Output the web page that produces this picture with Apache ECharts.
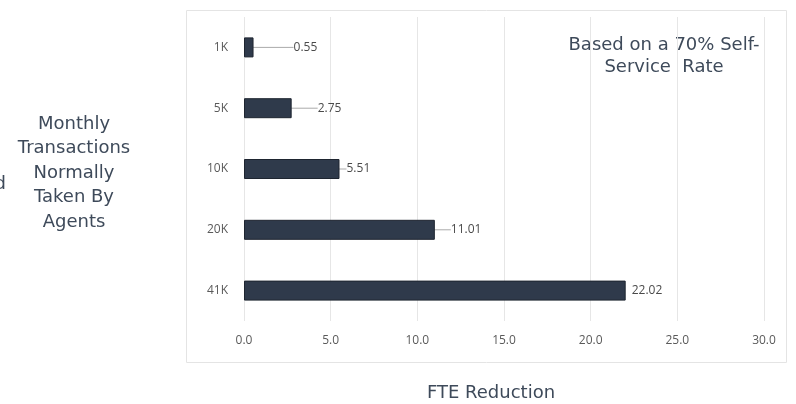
<!DOCTYPE html>
<html><head><meta charset="utf-8">
<script src="https://cdn.jsdelivr.net/npm/echarts@6/dist/echarts.min.js"></script>
<style>html,body{margin:0;padding:0;background:#fff}#c{width:796px;height:404px}</style>
</head><body><div id="c"></div>
<script>
const categories = ['41K', '20K', '10K', '5K', '1K'];
const fteValues = [22.02, 11.01, 5.51, 2.75, 0.55];
const labelOffsets = [0, 10, 1, 20, 34];
const xTicks = [0, 5, 10, 15, 20, 25, 30];

const chart = echarts.init(document.getElementById('c'));
const txt = '#3e4a5a';
const sideFont = '18px "DejaVu Sans"';
chart.setOption({
  animation: false,
  graphic: [
    {type: 'rect', shape: {x: 186.5, y: 10.5, width: 600, height: 352}, style: {fill: 'none', stroke: '#e4e4e4', lineWidth: 1}, z: 0},
    {type: 'text', style: {text: 'Monthly\nTransactions\nNormally\nTaken By\nAgents', x: 74, y: 112, align: 'center', fill: txt, font: sideFont, lineHeight: 24.5}},
    {type: 'text', style: {text: 'd', x: 6, y: 175, align: 'right', fill: txt, font: sideFont}},
    {type: 'text', style: {text: 'Based on a 70% Self-\nService  Rate', x: 664, y: 34, align: 'center', fill: txt, font: sideFont, lineHeight: 22}},
    {type: 'text', style: {text: 'FTE Reduction', x: 491, y: 384, align: 'center', fill: txt, font: sideFont}}
  ],
  grid: {left: 244, right: 32, top: 17, bottom: 83},
  xAxis: {
    type: 'value', min: 0, max: 30, interval: 5,
    axisLine: {show: false}, axisTick: {show: false},
    splitLine: {lineStyle: {color: '#e6e6e6'}},
    axisLabel: {color: '#5a5a5a', fontFamily: 'Open Sans', fontSize: 12, margin: 14, formatter: v => v.toFixed(1)}
  },
  yAxis: {
    type: 'category', data: categories,
    axisLine: {show: false}, axisTick: {show: false},
    axisLabel: {color: '#5a5a5a', fontFamily: 'Open Sans', fontSize: 12, margin: 16}
  },
  series: [{
    type: 'bar', barWidth: 20,
    data: fteValues.map((v, i) => labelOffsets[i] > 0 ? v : {value: v, labelLine: {show: false}}),
    itemStyle: {color: '#2f3a4b', borderColor: '#1e2530', borderWidth: 1},
    label: {show: true, position: 'right', distance: 6, color: '#4a4a4a', fontFamily: 'Open Sans', fontSize: 12, formatter: p => p.value.toFixed(2)},
    labelLine: {show: true, lineStyle: {color: '#aaa', width: 1}},
    labelLayout: p => ({dx: labelOffsets[p.dataIndex]})
  }]
});
</script></body></html>
